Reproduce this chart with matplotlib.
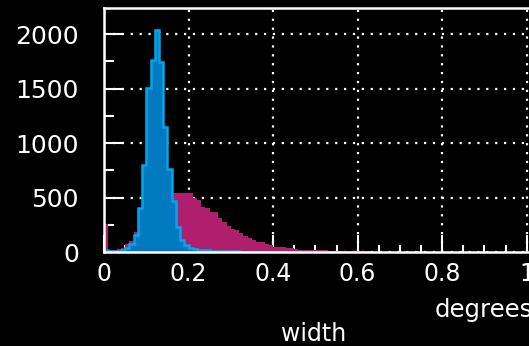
import numpy as np
import matplotlib
matplotlib.use("Agg")
import matplotlib.pyplot as plt
from matplotlib.ticker import MultipleLocator

# bin edges: 0.01 wide, starting at 0
bin_width = 0.01

# counts per bin (magenta, broad distribution)
magenta_counts = [260, 20, 20, 25, 40, 70, 100, 180, 200, 250,
                  300, 350, 400, 450, 500, 530, 545, 545, 545, 540,
                  540, 500, 480, 410, 400, 370, 365, 315, 280, 240,
                  210, 200, 178, 150, 128, 110, 95, 90, 72, 65,
                  50, 50, 45, 40, 38, 25, 22, 20, 20, 18,
                  17, 15, 15, 12, 10, 8, 8, 7, 7, 6,
                  6, 5, 5, 4, 4, 3, 3, 3, 3, 2,
                  2, 2, 2, 2, 1, 1, 1, 1, 1, 1]

# counts per bin (blue, narrow peak)
blue_counts = [20, 5, 5, 10, 15, 35, 70, 160, 400, 800,
               1510, 1760, 2040, 1740, 1150, 760, 470, 230, 110, 60,
               40, 30, 22, 18, 14, 12, 10, 8, 7, 6,
               5, 5, 4, 4, 3, 3, 3, 2, 2, 2]

x_ticks = [0, 0.2, 0.4, 0.6, 0.8, 1.0]
x_tick_labels = ["0", "0.2", "0.4", "0.6", "0.8", "1"]
y_ticks = [0, 500, 1000, 1500, 2000]

magenta_edges = np.arange(len(magenta_counts) + 1) * bin_width
blue_edges = np.arange(len(blue_counts) + 1) * bin_width

fig = plt.figure(figsize=(5.29, 3.46), dpi=100, facecolor="black")
ax = fig.add_axes([104 / 529, 94 / 346, 465 / 529, 244 / 346])
ax.set_facecolor("black")

ax.stairs(magenta_counts, magenta_edges, fill=True, color="#B01E6E", zorder=2)
ax.stairs(blue_counts, blue_edges, fill=True, color="#0079BE", zorder=3)
ax.stairs(blue_counts, blue_edges, color="#00A6EE", linewidth=1.8, zorder=4)

ax.set_xlim(0, 1.1)
ax.set_ylim(0, 2240)

ax.set_xticks(x_ticks)
ax.set_xticklabels(x_tick_labels)
ax.set_yticks(y_ticks)
ax.xaxis.set_minor_locator(MultipleLocator(0.05))
ax.yaxis.set_minor_locator(MultipleLocator(250))

ax.grid(True, which="major", color="white", linestyle=(0, (1, 3)),
        linewidth=1.6, zorder=1)
ax.set_axisbelow(True)

for side in ["left", "bottom", "top", "right"]:
    ax.spines[side].set_color("white")
    ax.spines[side].set_linewidth(1.8)
    ax.spines[side].set_zorder(5)

ax.tick_params(axis="x", which="major", direction="in", length=12, width=1.5,
               color="white", labelcolor="white", labelsize=17, pad=7)
ax.tick_params(axis="x", which="minor", direction="in", length=5, width=1.5,
               color="white")
ax.tick_params(axis="y", which="major", direction="in", length=14, width=1.5,
               color="white", labelcolor="white", labelsize=18, pad=18)
ax.tick_params(axis="y", which="minor", direction="in", length=7, width=1.5,
               color="white")
for t in ax.get_xticklines() + ax.get_yticklines():
    t.set_zorder(6)

fig.text(435 / 529, 1 - 317 / 346, "degrees", color="white", fontsize=17.5,
         ha="left", va="baseline")
fig.text(314 / 529, 1 - 341 / 346, "width", color="white", fontsize=17,
         ha="center", va="baseline")

fig.savefig("out.png", dpi=100, facecolor="black")
